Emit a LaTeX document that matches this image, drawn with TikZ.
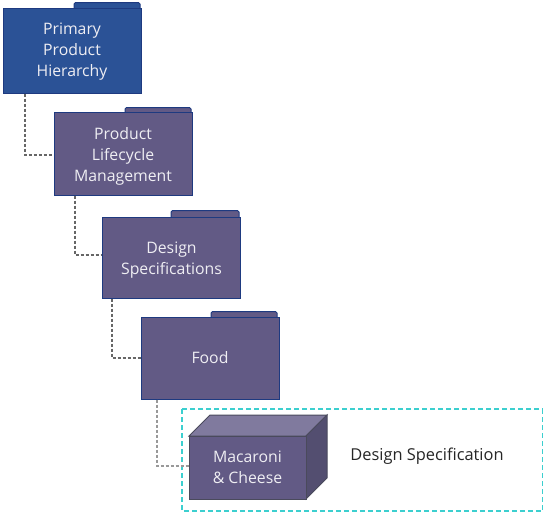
\documentclass[tikz,border=0pt]{standalone}
\usepackage{fontspec}
\setmainfont{Open Sans}
\usetikzlibrary{positioning,calc}
\definecolor{primblue}{HTML}{2B5296}
\definecolor{foldpurple}{HTML}{625A85}
\definecolor{foldedge}{HTML}{1E3A80}
\definecolor{boxtop}{HTML}{807A9E}
\definecolor{boxside}{HTML}{534E70}
\definecolor{boxedge}{HTML}{4A4A5C}
\definecolor{selcyan}{HTML}{3CCFCF}
\newcommand{\dropline}[1]{\rule{0pt}{#1pt}}
\tikzset{
  folder/.style={draw=foldedge,line width=1pt,fill=foldpurple,text=white!90!foldpurple,
    minimum width=138pt,minimum height=83pt,align=center,font=\fontsize{15.8}{21}\selectfont,inner sep=0pt},
  foldertab/.style={draw=foldedge,line width=1pt,fill=foldpurple,rounded corners=1.5pt},
  link/.style={draw=black!60,line width=1.4pt,dash pattern=on 3.5pt off 1.5pt}
}
\begin{document}
\begin{tikzpicture}[x=1pt,y=-1pt]
\useasboundingbox (0,0) rectangle (543,512);
% selection frame
\draw[selcyan,line width=1.3pt,dash pattern=on 5pt off 3pt] (182,409) rectangle (542.5,511);
% tabs
\draw[foldertab,fill=primblue] (74,9) -- (74,2.5) -- (140,2.5) -- (140,9);
\draw[foldertab] (125,113) -- (125,107.5) -- (191,107.5) -- (191,113);
\draw[foldertab] (171,217) -- (171,210.5) -- (239,210.5) -- (239,217);
\draw[foldertab] (211,318) -- (211,311.5) -- (277,311.5) -- (277,318);
% folders
\node[folder,fill=primblue,minimum height=85pt] (prim) at (72,50.5) {\dropline{14}Primary\\Product\\Hierarchy};
\node[folder] (plc) at (123,153.5) {\dropline{17}Product\\Lifecycle\\Management};
\node[folder,minimum height=81pt] (spec) at (171.5,257.5) {\dropline{17}Design\\Specifications};
\node[folder,minimum height=82pt] (food) at (210,358) {Food};
% box
\fill[boxtop,draw=boxedge,line width=1pt] (189,436) -- (210,415) -- (327,415) -- (306,436) -- cycle;
\fill[boxside,draw=boxedge,line width=1pt] (306,436) -- (327,415) -- (327,478) -- (306,499) -- cycle;
\node[folder,draw=boxedge,line width=1pt,minimum width=117pt,minimum height=63pt] (mac) at (247.5,467.5) {Macaroni\\\& Cheese};
\node[font=\fontsize{16.4}{20}\selectfont,text=black!85,inner sep=0pt] (lbl) at (427,456) {Design Specification};
% links
\coordinate (j1) at (25,155);
\coordinate (j2) at (75,255);
\coordinate (j3) at (112,358);
\coordinate (j4) at (157,466);
\draw[link] (prim.south -| j1) -- (j1) -- (plc.west |- j1);
\draw[link] (plc.south -| j2) -- (j2) -- (spec.west |- j2);
\draw[link] (spec.south -| j3) -- (j3) -- (food.west |- j3);
\draw[link,draw=black!40] (food.south -| j4) -- (j4) -- (mac.west |- j4);
\end{tikzpicture}
\end{document}
